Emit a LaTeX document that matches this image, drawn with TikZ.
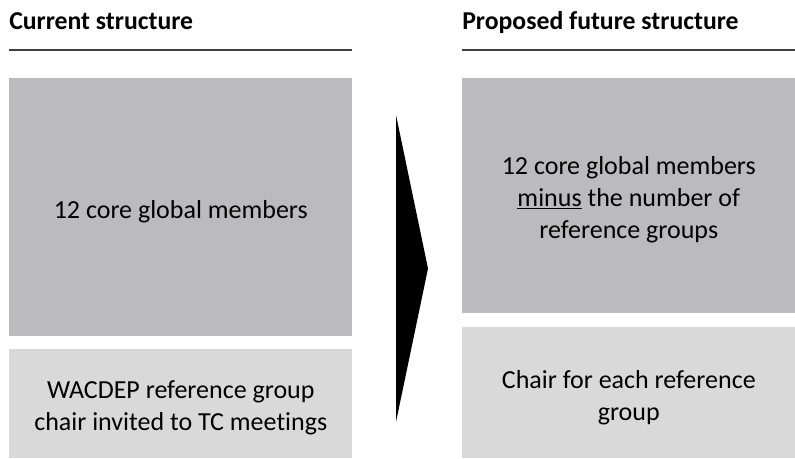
\documentclass[tikz,border=0pt]{standalone}
\usepackage{fontspec}
\setmainfont{Carlito}[Ligatures=NoCommon]
\definecolor{coregray}{RGB}{187,186,191}
\definecolor{chairgray}{RGB}{217,217,217}
\definecolor{rulegray}{RGB}{64,64,64}
\tikzset{
  heading/.style={anchor=base west, inner sep=0pt, font=\fontsize{19.3}{22}\selectfont\bfseries},
  corebox/.style={anchor=north west, fill=coregray, inner sep=0pt},
  chairbox/.style={corebox, fill=chairgray},
  boxtext/.style={inner sep=0pt, align=center, yshift=-3pt, font=\fontsize{19.5}{24}\selectfont}
}
\begin{document}
\begin{tikzpicture}[x=0.75pt,y=-0.75pt]
\useasboundingbox (0,0) rectangle (795,459);
% left column
\node[heading] (curhead) at (9,30) {Current structure};
\draw[rulegray, line width=1.1pt] (9,50)--(352,50);
\node[corebox, minimum width=257.25pt, minimum height=193.5pt] (curcore) at (9,78) {};
\node[boxtext] (curcoretxt) at (curcore.center) {12 core global members};
\node[chairbox, minimum width=257.25pt, minimum height=81.75pt] (curchair) at (9,349) {};
\node[boxtext] (curchairtxt) at (curchair.center)
  {WACDEP reference group\\chair invited to TC meetings};
% the arrow between the columns
\fill (396,115)--(428,268.5)--(396,422)--cycle;
% right column
\node[heading] (newhead) at (462,30) {Proposed future structure};
\draw[rulegray, line width=1.1pt] (462,50)--(795,50);
\node[corebox, minimum width=249.75pt, minimum height=176.25pt] (newcore) at (462,78) {};
\node[boxtext] (newcoretxt) at (newcore.center)
  {12 core global members\\\underline{minus} the number of\\reference groups};
\node[chairbox, minimum width=249.75pt, minimum height=98.25pt] (newchair) at (462,327) {};
\node[boxtext, yshift=-0.75pt] (newchairtxt) at (newchair.center)
  {Chair for each reference\\group};
\end{tikzpicture}
\end{document}
